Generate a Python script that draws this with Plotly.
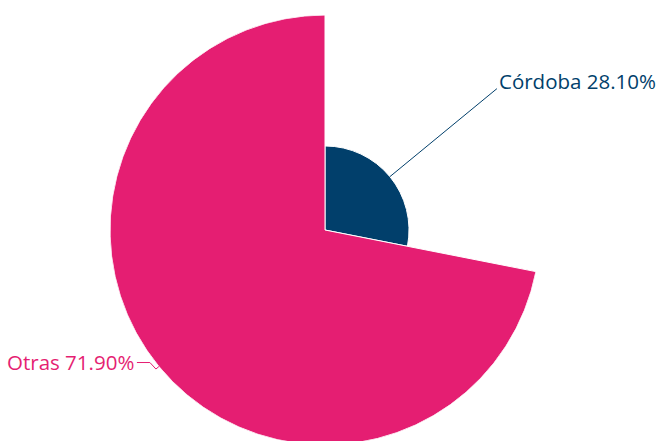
import math
import plotly.graph_objects as go

# Share of total by province
labels = ["Córdoba", "Otras"]
shares = [28.10, 71.90]
colors = ["#013F6B", "#E51E72"]

# Canvas and polar geometry (pixels)
W, H = 662, 460
CX, CY = 325, 230
R_PX = 215

r_max = max(shares)
px = R_PX / r_max  # pixels per radial unit

# Slices start at 12 o'clock and run clockwise; angular width follows the share
widths = [s / sum(shares) * 360 for s in shares]
starts = [sum(widths[:i]) for i in range(len(widths))]
mids = [a + w / 2 for a, w in zip(starts, widths)]


def edge_px(r, th):
    """Pixel position (x right, y down) of the point (r, th) of the polar area."""
    t = math.radians(th)
    return CX + r * px * math.sin(t), CY - r * px * math.cos(t)


def to_paper(x, y):
    return x / W, 1 - y / H


# label-line paths as pixel offsets (dx right, dy up) from the slice edge,
# and the text anchor offset from the line end
paths = [
    [(0, 0), (107, 88)],
    [(0, 0), (-3, -2.5), (-9, 4), (-22, 4)],
]
text_shift = [(0, 8), (-1, 1)]
text_anchor = ["left", "right"]

fig = go.Figure()

for lab, val, w, mid, col in zip(labels, shares, widths, mids, colors):
    fig.add_trace(go.Barpolar(
        r=[val], theta=[mid], width=[w],
        marker=dict(color=col, line=dict(color="white", width=1)),
        name=lab, hoverinfo="skip",
    ))

shapes, annotations = [], []
for lab, val, mid, col, path, sh, xa in zip(labels, shares, mids, colors,
                                           paths, text_shift, text_anchor):
    x0, y0 = edge_px(val, mid)
    pts = [to_paper(x0 + dx, y0 - dy) for dx, dy in path]
    d = "M " + " L ".join(f"{x:.5f},{y:.5f}" for x, y in pts)
    shapes.append(dict(type="path", path=d, xref="paper", yref="paper",
                       line=dict(color=col, width=1)))
    ex, ey = path[-1]
    ax, ay = to_paper(x0 + ex + sh[0], y0 - ey - sh[1])
    annotations.append(dict(
        x=ax, y=ay, xref="paper", yref="paper",
        xanchor=xa, yanchor="middle", showarrow=False,
        text=f"{lab} {val:.2f}%",
        font=dict(family="Open Sans", size=20.5, color=col),
    ))

fig.update_layout(
    width=W, height=H,
    margin=dict(l=0, r=0, t=0, b=0),
    paper_bgcolor="white",
    showlegend=False,
    shapes=shapes,
    annotations=annotations,
    polar=dict(
        domain=dict(x=[(CX - R_PX) / W, (CX + R_PX) / W], y=[0, 1]),
        bgcolor="white",
        radialaxis=dict(range=[0, r_max], visible=False, showgrid=False),
        angularaxis=dict(rotation=90, direction="clockwise", visible=False,
                         showgrid=False),
        bargap=0,
    ),
)

fig.write_html(
    "out.html",
    config={"displayModeBar": False},
    post_script=(
        "document.documentElement.style.overflow='hidden';"
        "document.body.style.overflow='hidden';"
        "document.body.style.margin='0';"
    ),
)
